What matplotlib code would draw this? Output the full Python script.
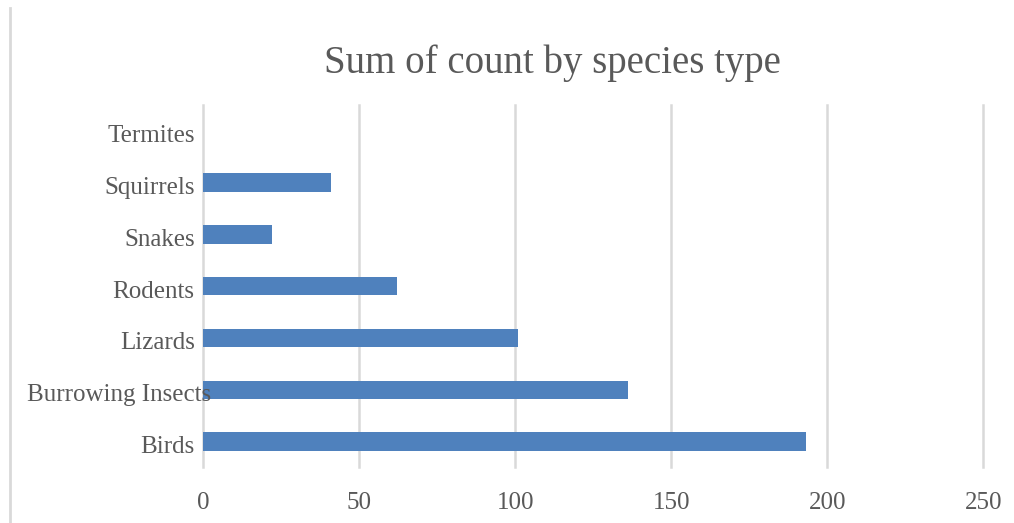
import matplotlib
matplotlib.use("Agg")
import matplotlib.pyplot as plt
from matplotlib.transforms import ScaledTranslation
from matplotlib.lines import Line2D

# Species totals, listed bottom to top as drawn
species = ["Birds", "Burrowing Insects", "Lizards", "Rodents", "Snakes", "Squirrels", "Termites"]
counts = [193, 136, 101, 62, 22, 41, 0]
x_ticks = [0, 50, 100, 150, 200, 250]

plt.rcParams["font.family"] = ["Liberation Serif", "DejaVu Serif"]

bar_color = "#4f81bd"
grid_color = "#d9d9d9"
text_color = "#595959"

fig = plt.figure(figsize=(10.14, 5.23), dpi=100)
ax = fig.add_axes([0.2002, 0.1063, 0.7697, 0.6929])

pos = list(range(len(species)))
ax.barh(pos, counts, height=0.357, color=bar_color, zorder=3)

ax.set_xlim(0, 250)
ax.set_ylim(-0.5, len(species) - 0.5)
ax.set_xticks(x_ticks)
ax.set_yticks(pos)
ax.set_yticklabels(species)

for s in ax.spines.values():
    s.set_visible(False)
ax.tick_params(length=0, labelsize=18, labelcolor=text_color)
ax.tick_params(axis="y", pad=6)
ax.tick_params(axis="x", pad=18)
ax.xaxis.grid(True, color=grid_color, lw=1.8, zorder=0)
ax.set_axisbelow(True)
# keep the edge gridlines at full width
for gl in ax.get_xgridlines():
    gl.set_clip_on(False)
# category labels sit on top of the bars
ax.yaxis.set_zorder(4)

# labels sit a touch low; the long one spills over the axis a bit
for lab in ax.get_yticklabels():
    dx = 0.16 if lab.get_text() == "Burrowing Insects" else 0.0
    lab.set_transform(lab.get_transform() + ScaledTranslation(dx, -0.03, fig.dpi_scale_trans))

fig.text(0.545, 0.879, "Sum of count by species type", ha="center", va="center",
         fontsize=28, color=text_color)

# chart frame edge on the left
fig.add_artist(Line2D([0.0097, 0.0097], [0, 0.985], transform=fig.transFigure,
                      color=grid_color, lw=2))

fig.savefig("out.png", dpi=100)
